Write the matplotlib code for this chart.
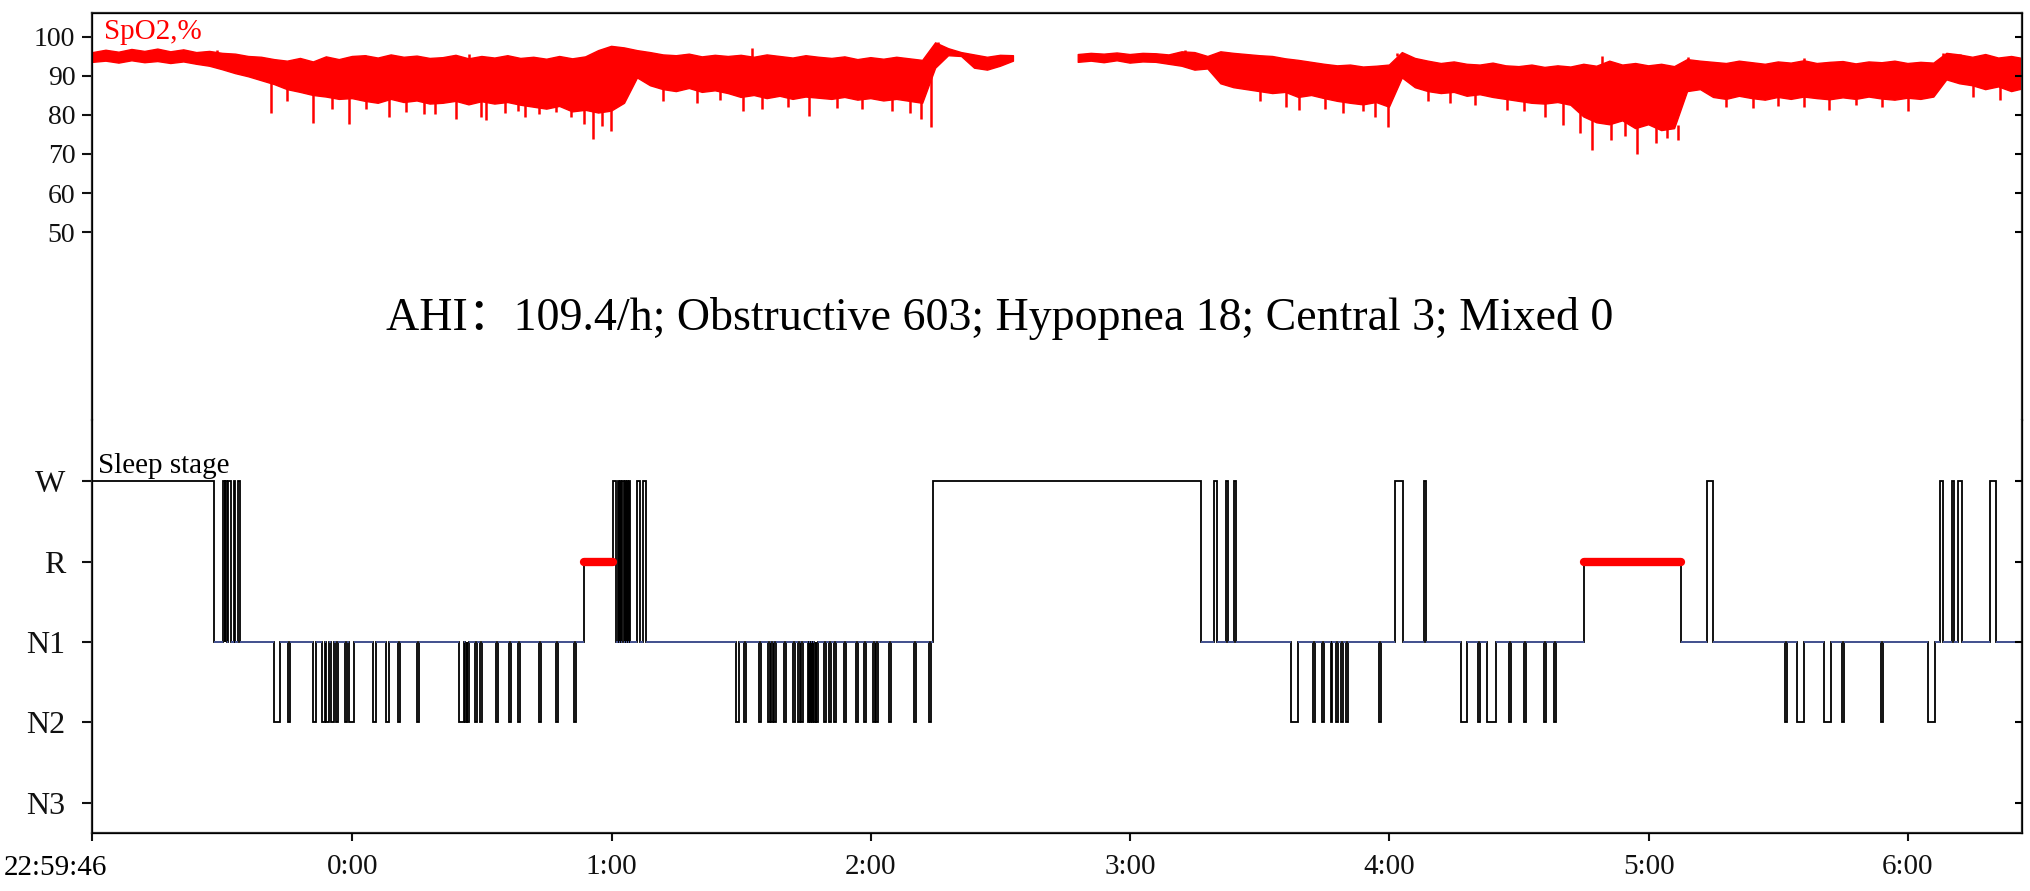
import numpy as np
import matplotlib
matplotlib.use("Agg")
import matplotlib.pyplot as plt

plt.rcParams['font.family'] = ['Liberation Serif', 'Noto Sans CJK SC', 'DejaVu Sans']

# ---- time axis (hours after midnight) ----
t_start = -1 - 14 / 3600.0      # 22:59:46
t_end = 6.44
tick_hours = [0, 1, 2, 3, 4, 5, 6]
tick_labels = ["0:00", "1:00", "2:00", "3:00", "4:00", "5:00", "6:00"]

# ---- SpO2 band, read every 0.05 h from -1.00 h (upper / lower edge of the trace) ----
spo2_t0 = -1.0
spo2_step = 0.05
nan = np.nan
spo2_hi = [96.0, 96.6, 96.1, 96.8, 96.3, 96.9, 96.2, 96.7, 96.0,
           96.3, 95.8, 95.6, 95.0, 94.8, 94.2,
           93.8, 94.5, 93.6, 94.9, 94.2, 95.0,
           95.2, 94.6, 95.4, 94.8, 95.1, 94.5,
           94.7, 95.3, 94.4, 95.0, 94.6, 95.2, 94.5,
           94.8, 94.3, 95.0, 94.4, 94.9, 96.5,
           97.6, 97.2, 96.5,
           96.0, 95.4, 95.2, 95.6, 94.9, 95.3, 95.0,
           95.3, 94.8, 95.4, 95.0, 94.6, 95.2, 94.8,
           94.5, 94.9, 94.2, 94.7, 94.3, 94.8, 94.4,
           94.0, 98.5, 97.0, 96.0,
           95.4, 94.8, 95.3, 95.2,
           nan, nan, nan, nan,
           95.5, 95.8, 95.6, 95.9, 95.5, 95.8, 95.7, 95.4, 96.2, 96.0, 95.0, 96.2, 95.8,
           95.5, 95.2, 95.0, 94.4, 94.0, 93.5, 93.0,
           92.6, 92.8, 92.3, 92.5, 92.8,
           96.0,
           94.5, 93.8, 93.2, 93.6, 93.0, 92.8, 93.3, 92.6,
           92.4, 92.8, 92.2, 92.6, 92.3,
           93.0, 92.5, 93.8, 92.8, 93.2, 92.6, 93.0, 92.4,
           94.2, 93.8,
           93.5, 93.2, 93.8, 93.4, 93.0, 93.6, 93.3, 93.9, 93.2, 93.5, 93.7, 93.1,
           93.6, 93.4, 93.8, 93.2, 93.5, 93.3,
           95.8, 95.4, 94.8, 95.5, 94.6, 95.0, 94.4]
spo2_lo = [93.5, 93.8, 93.3, 93.9, 93.4, 93.7, 93.2, 93.6, 93.0,
           92.5, 91.6, 90.6, 89.8, 88.8, 87.8,
           86.5, 85.8, 85.0, 84.6, 84.0, 84.2,
           83.5, 83.0, 84.0, 83.2, 83.6, 82.8,
           83.0, 83.5, 82.6, 83.4, 82.8, 83.2, 82.5,
           82.0, 81.5, 82.2, 80.8, 81.2, 80.5,
           81.0, 83.0, 89.5,
           87.5, 86.5, 86.0, 86.8, 85.8, 86.2, 85.5,
           84.5, 85.0, 84.2, 84.8, 84.0, 84.6, 84.3,
           84.0, 84.5, 83.8, 84.2, 83.6, 84.0, 83.5,
           83.0, 92.0, 95.2, 95.0,
           92.0, 91.5, 92.5, 93.8,
           nan, nan, nan, nan,
           93.5, 93.8, 93.4, 93.9, 93.3, 93.6, 93.5, 93.0, 92.5, 91.5, 91.8, 88.0, 87.0,
           86.5, 86.0, 85.5, 85.8, 84.5, 85.0, 84.2,
           83.5, 83.0, 82.6, 83.2, 82.0,
           89.5,
           87.0, 86.0, 85.5, 85.8, 84.8, 85.2, 84.5, 84.0,
           83.5, 83.0, 82.8, 83.2, 82.5,
           79.5, 78.0, 77.5, 78.5, 76.5, 77.5, 76.0, 76.5,
           86.0, 86.5,
           84.5, 84.0, 84.8, 84.2, 83.8, 84.5, 84.0, 84.6, 84.2, 83.9, 84.4, 84.0,
           84.6, 84.1, 83.8, 84.3, 84.0, 84.6,
           89.0, 88.0, 87.5, 86.5, 87.2, 86.0, 86.8]

# single desaturation spikes below the band: time (h), lowest value
dip_t = [-0.315, -0.25, -0.15, -0.08, -0.013, 0.052, 0.143, 0.208, 0.276, 0.32, 0.40, 0.496, 0.517,
         0.59, 0.64, 0.667, 0.72, 0.785, 0.843, 0.893, 0.93, 0.965, 0.997,
         1.2, 1.33, 1.42, 1.507, 1.58, 1.68, 1.76, 1.87, 1.965, 2.08, 2.15, 2.195, 2.231,
         3.5, 3.6, 3.652, 3.75, 3.823, 3.9, 3.945, 3.993, 4.15, 4.235, 4.33, 4.455, 4.52, 4.60,
         4.67, 4.735, 4.783, 4.856, 4.91, 4.955, 5.027, 5.07, 5.112,
         5.3, 5.403, 5.5, 5.6, 5.695, 5.8, 5.9, 6.0, 6.25, 6.355]
dip_v = [80.5, 83.5, 78, 81.5, 77.7, 81.5, 79.6, 80.7, 80.3, 80.3, 79, 79.4, 78.8,
         80.5, 81, 79.6, 80.2, 80.7, 79.5, 77.7, 73.8, 77.3, 76,
         83.5, 83.0, 83.8, 81, 81.5, 82.0, 79.8, 81.8, 81.5, 81.0, 80.5, 79, 76.8,
         83.5, 82.0, 81.3, 81.5, 80.4, 81.0, 79.6, 77, 83.5, 83, 82.5, 81.3, 81.0, 79.6,
         77.5, 75.3, 71, 73.6, 74.5, 70, 72.7, 74.0, 73.6,
         82.0, 81.7, 82.3, 82.0, 81.3, 82.5, 82.0, 80.9, 84.5, 83.9]
# peaks above the band: time (h), highest value
peak_t = [-0.52, 0.05, 0.45, 1.02, 1.06, 1.54, 2.26, 3.21, 4.03, 4.82, 5.15, 5.6, 6.135, 6.2]
peak_v = [96.6, 95.3, 95.6, 97.4, 97.0, 97.2, 98.8, 96.7, 95.9, 95.0, 94.8, 94.6, 95.9, 95.6]

# ---- hypnogram (minutes after midnight) ----
stage_names = ["N3", "N2", "N1", "R", "W"]
base_start = [-60.23, -31.9, 53.6, 60.3, 134.3, 196.4, 285.0, 307.5]
base_stage = ["W", "N1", "R", "N1", "W", "N1", "R", "N1"]
hyp_end = 386.4

# brief arousals to W: start, duration
w_spikes = [(-29.9, 0.35), (-29.4, 0.35), (-28.7, 0.7), (-27.4, 0.35), (-26.5, 0.5),
            (60.3, 0.7), (61.5, 0.3), (62.0, 0.3), (62.5, 0.4), (63.0, 0.3), (63.5, 0.4), (64.0, 0.3),
            (65.8, 0.7), (67.3, 0.7),
            (199.5, 0.5), (202.2, 0.5), (204.1, 0.5),
            (241.2, 2.0), (248.0, 0.5),
            (313.5, 1.4),
            (367.4, 0.7), (370.2, 0.5), (371.6, 0.9), (378.9, 1.4)]

# brief drops to N2: start, duration
n2_spikes = [(-18.0, 1.2), (-14.8, 0.5), (-9.0, 0.7), (-6.9, 0.5), (-6.0, 0.5), (-4.9, 0.7), (-3.7, 0.5),
             (-1.8, 0.5), (-0.7, 1.2), (4.9, 0.5), (7.9, 0.7), (10.6, 0.5), (15.0, 0.5),
             (24.7, 1.2), (26.0, 0.5), (26.6, 0.5), (28.4, 0.5), (29.6, 0.5), (33.3, 0.5), (36.3, 0.5),
             (38.4, 0.5), (43.2, 0.5), (47.2, 0.5), (51.3, 0.5),
             (88.8, 0.7), (90.6, 0.5), (94.1, 0.5), (96.2, 0.4), (96.9, 0.4), (97.6, 0.4), (99.9, 0.5),
             (102.0, 0.5), (103.1, 0.4), (103.8, 0.4), (105.4, 0.3), (105.9, 0.3), (106.4, 0.3),
             (106.9, 0.3), (107.4, 0.3), (109.1, 0.5), (110.3, 0.5), (111.4, 0.5), (113.8, 0.5),
             (116.5, 0.5), (118.4, 0.5), (120.5, 0.5), (121.2, 0.5), (124.2, 0.5), (129.9, 0.5), (133.4, 0.5),
             (217.3, 1.5), (222.4, 0.5), (224.4, 0.5), (226.4, 0.4), (227.6, 0.4), (228.9, 0.4),
             (230.0, 0.5), (237.6, 0.5),
             (256.5, 1.5), (260.5, 0.5), (262.6, 2.0), (267.7, 0.5), (271.2, 0.5), (275.8, 0.5), (278.1, 0.5),
             (331.5, 0.5), (334.3, 1.6), (340.6, 1.6), (344.7, 0.5), (353.7, 0.5), (364.6, 1.6)]

ahi_text = "AHI：109.4/h; Obstructive 603; Hypopnea 18; Central 3; Mixed 0"


def base_at(m):
    s = base_stage[0]
    for b, st in zip(base_start, base_stage):
        if m >= b:
            s = st
    return s


def stage_at(m):
    for s0, d in w_spikes:
        if s0 <= m < s0 + d:
            return "W"
    for s0, d in n2_spikes:
        if s0 <= m < s0 + d:
            return "N2"
    return base_at(m)


# edges of all segments
edges = set(base_start)
for s0, d in w_spikes + n2_spikes:
    edges.add(s0)
    edges.add(s0 + d)
edges.add(hyp_end)
edges = sorted(edges)
seg = []
for a, b in zip(edges[:-1], edges[1:]):
    st = stage_at((a + b) / 2)
    if seg and seg[-1][2] == st:
        seg[-1][1] = b
    else:
        seg.append([a, b, st])

xs, ys = [], []
for a, b, st in seg:
    y = stage_names.index(st)
    xs += [a / 60.0, b / 60.0]
    ys += [y, y]

# ---- figure ----
W_PX, H_PX = 2030, 891
fig = plt.figure(figsize=(W_PX / 100, H_PX / 100), dpi=100)
left, right = 92 / W_PX, 2022 / W_PX
ax1 = fig.add_axes([left, 1 - 420 / H_PX, right - left, 407 / H_PX])
ax2 = fig.add_axes([left, 1 - 833 / H_PX, right - left, 413 / H_PX])

spine_col = "#2b2b2b"
red = "#ff0000"

# SpO2 panel
t = spo2_t0 + spo2_step * np.arange(len(spo2_hi))
hi = np.array(spo2_hi, dtype=float)
lo = np.array(spo2_lo, dtype=float)
ax1.fill_between(t, lo, hi, color=red, lw=1.0, edgecolor=red)
for dt, dv in zip(dip_t, dip_v):
    i = int(round((dt - spo2_t0) / spo2_step))
    ax1.vlines(dt, dv, lo[i] + 1, color=red, lw=1.8)
for pt, pv in zip(peak_t, peak_v):
    i = int(round((pt - spo2_t0) / spo2_step))
    ax1.vlines(pt, hi[i] - 1, pv, color=red, lw=1.8)
ax1.set_xlim(t_start, t_end)
ax1.set_ylim(1.8, 106.15)
ax1.set_yticks([100, 90, 80, 70, 60, 50])
ax1.tick_params(axis="y", direction="out", length=7, width=1.5, labelsize=20, pad=5, colors="#111111")
ax1.tick_params(axis="x", bottom=False, labelbottom=False)
ax1.spines["bottom"].set_visible(False)
for s in ["top", "left", "right"]:
    ax1.spines[s].set_color(spine_col)
    ax1.spines[s].set_linewidth(1.6)
ax1.text(0.006, 99.4, "SpO2,%", color=red, fontsize=21, va="baseline",
         transform=ax1.get_yaxis_transform())
ax1.text(0.4705, 25, ahi_text, fontsize=33, ha="center", va="baseline",
         transform=ax1.get_yaxis_transform())
r1 = ax1.twinx()
r1.set_ylim(ax1.get_ylim())
r1.set_yticks([100, 90, 80, 70, 60, 50])
r1.tick_params(axis="y", direction="in", length=5, width=1.5, labelright=False)
r1.spines["bottom"].set_visible(False)

# sleep stage panel
ax2.plot(xs, ys, color="black", lw=1.3, solid_joinstyle="miter")
for a, b, st in seg:
    if st == "N1":
        ax2.hlines(2, a / 60.0, b / 60.0, color="#4a5a9e", lw=1.3)
    if st == "R" and b - a > 2:
        ax2.hlines(3, a / 60.0, b / 60.0, color=red, lw=6, capstyle="round")
ax2.set_xlim(t_start, t_end)
ax2.set_ylim(-0.373, 4.758)
ax2.set_yticks(range(5))
ax2.set_yticklabels(stage_names)
ax2.tick_params(axis="y", direction="out", length=7, width=1.5, labelsize=23, pad=12, colors="#111111")
ax2.set_xticks([t_start] + tick_hours)
ax2.set_xticklabels([""] + tick_labels)
ax2.tick_params(axis="x", direction="out", length=6, width=1.5, labelsize=21, pad=9, colors="#111111")
ax2.annotate("22:59:46", xy=(t_start, 0), xycoords=ax2.get_xaxis_transform(),
             xytext=(-37, -35), textcoords="offset pixels", ha="center", va="center", fontsize=21)
ax2.spines["top"].set_visible(False)
for s in ["bottom", "left", "right"]:
    ax2.spines[s].set_color(spine_col)
    ax2.spines[s].set_linewidth(1.6)
ax2.text(0.003, 4.1, "Sleep stage", fontsize=21, va="baseline",
         transform=ax2.get_yaxis_transform())
r2 = ax2.twinx()
r2.set_ylim(ax2.get_ylim())
r2.set_yticks(range(5))
r2.tick_params(axis="y", direction="in", length=5, width=1.5, labelright=False)
r2.spines["top"].set_visible(False)

fig.savefig("out.png", dpi=100, facecolor="white")
